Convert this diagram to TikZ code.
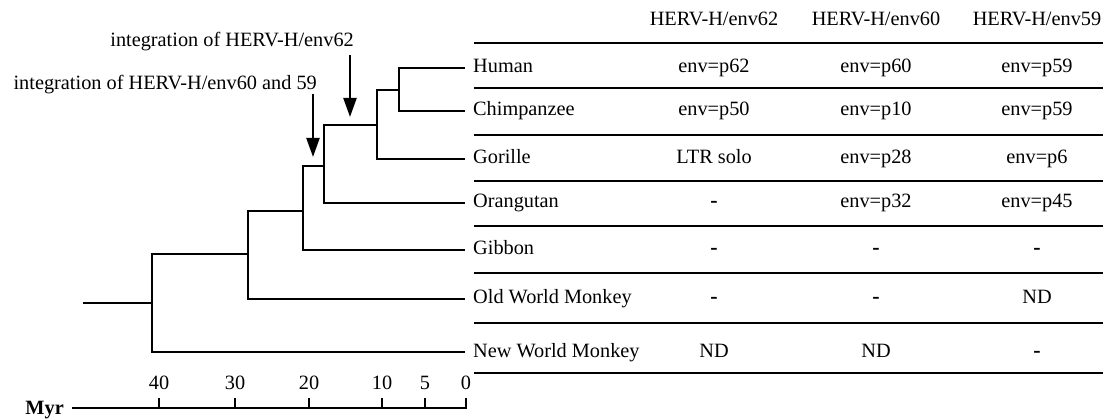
\documentclass[tikz,border=0pt]{standalone}
\usepackage{fontspec}
\setmainfont{Liberation Serif}
\usetikzlibrary{arrows.meta}
\begin{document}
\begin{tikzpicture}[x=1pt,y=-1pt,
  every node/.style={font=\fontsize{20.3}{24}\selectfont, inner sep=0pt, text height=14pt, text depth=4pt},
  tree/.style={line width=2.3pt},
  rulel/.style={line width=2.6pt},
  integ/.style={line width=2.2pt,-{Triangle[width=13pt,length=19pt]}},
  leaf/.style={anchor=west},
  tick/.style={line width=2.3pt},
  dashcell/.style={font=\fontsize{22}{24}\selectfont\bfseries}
]
\useasboundingbox (0,0) rectangle (1110,419);

% headers
\node (h1) at (714,21) {HERV-H/env62};
\node (h2) at (876,21) {HERV-H/env60};
\node (h3) at (1037,21) {HERV-H/env59};

% leaf labels
\node[leaf] (human) at (473,68) {Human};
\node[leaf] (chimp) at (473,111) {Chimpanzee};
\node[leaf] (gor) at (473,159) {Gorille};
\node[leaf] (orang) at (473,203) {Orangutan};
\node[leaf] (gib) at (473,250) {Gibbon};
\node[leaf] (owm) at (473,299) {Old World Monkey};
\node[leaf] (nwm) at (473,352) {New World Monkey};

% cells
\node (c11) at (714,68) {env=p62};
\node (c12) at (876,68) {env=p60};
\node (c13) at (1037,68) {env=p59};
\node (c21) at (714,111) {env=p50};
\node (c22) at (876,111) {env=p10};
\node (c23) at (1037,111) {env=p59};
\node (c31) at (714,159) {LTR solo};
\node (c32) at (876,159) {env=p28};
\node (c33) at (1037,159) {env=p6};
\node[dashcell] (c41) at (714,203) {-};
\node (c42) at (876,203) {env=p32};
\node (c43) at (1037,203) {env=p45};
\node[dashcell] (c51) at (714,250) {-};
\node[dashcell] (c52) at (876,250) {-};
\node[dashcell] (c53) at (1037,250) {-};
\node[dashcell] (c61) at (714,299) {-};
\node[dashcell] (c62) at (876,299) {-};
\node (c63) at (1037,299) {ND};
\node (c71) at (714,352) {ND};
\node (c72) at (876,352) {ND};
\node[dashcell] (c73) at (1037,352) {-};

% table rules
\foreach \yy in {43,88,135,181,226,273,323,373}
  \draw[rulel] (474,\yy) -- (1103,\yy);

% tree junctions
\coordinate (jA) at (399,90);
\coordinate (jB) at (377,125);
\coordinate (jC) at (324,166);
\coordinate (jD) at (303,211);
\coordinate (jE) at (248,254);
\coordinate (jF) at (152,303);
\coordinate (root) at (83,303);

\draw[tree] ([xshift=-8pt]human.west) -| (jA) |- ([xshift=-8pt]chimp.west);
\draw[tree] (jA) -| (jB) |- ([xshift=-8pt]gor.west);
\draw[tree] (jB) -| (jC) |- ([xshift=-8pt]orang.west);
\draw[tree] (jC) -| (jD) |- ([xshift=-8pt]gib.west);
\draw[tree] (jD) -| (jE) |- ([xshift=-8pt]owm.west);
\draw[tree] (jE) -| (jF) |- ([xshift=-8pt]nwm.west);
\draw[tree] (root) -- (jF);

% integration annotations
\node[anchor=east] (int62) at (354,42) {integration of HERV-H/env62};
\node[anchor=east] (int60) at (317,85) {integration of HERV-H/env60 and 59};
\coordinate (a62s) at (350,55);
\coordinate (a62e) at (350,117);
\coordinate (a60s) at (313,94);
\coordinate (a60e) at (313,157);
\draw[integ] (a62s) -- (a62e);
\draw[integ] (a60s) -- (a60e);

% time axis
\node[anchor=east] (myr) at (64,409) {\textbf{Myr}};
\coordinate (ax0) at (72,408);
\coordinate (ax1) at (466,408);
\draw[tick] (ax0) -- (ax1) -- ++(0,-10);
\foreach \xx/\lab in {159/40,235/30,309/20,382/10,425/5} {
  \draw[tick] (\xx,408) -- (\xx,398);
  \node at (\xx,384) {\lab};
}
\node at (466,384) {0};
\end{tikzpicture}
\end{document}
